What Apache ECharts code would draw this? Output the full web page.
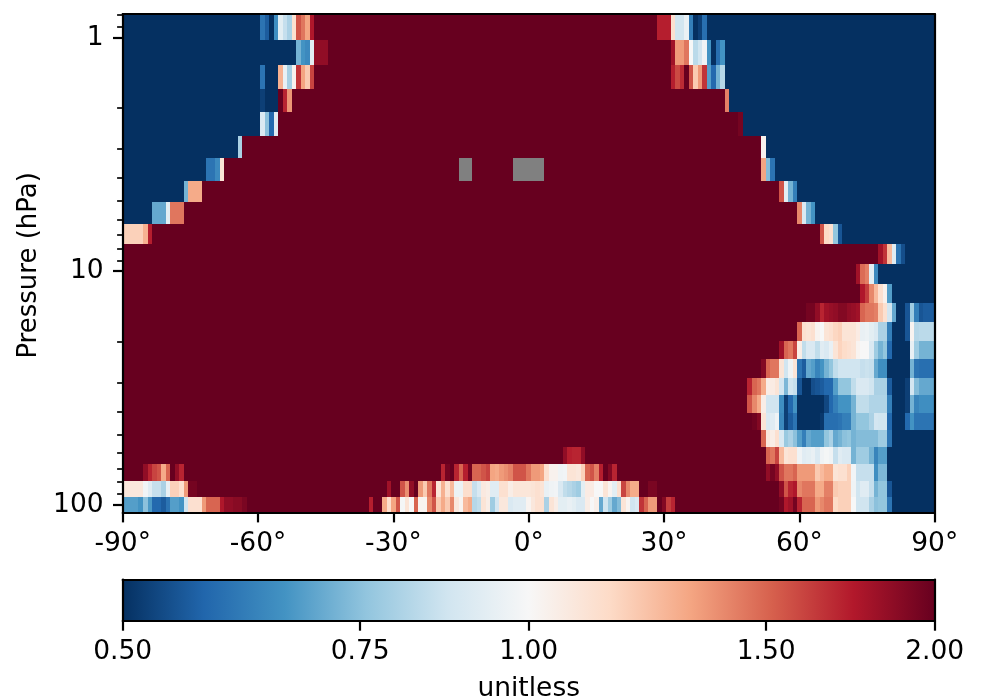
<!DOCTYPE html>
<html><head><meta charset="utf-8">
<style>html,body{margin:0;padding:0;background:#fff}#c{width:985px;height:700px}</style>
<script src="https://cdn.jsdelivr.net/npm/echarts@6/dist/echarts.min.js"></script></head>
<body><div id="c"></div>
<script>
// Pressure edges of the 25 rows, top to bottom (hPa)
const pressureEdges = [0.792,1.023,1.309,1.658,2.08,2.635,3.27,4.11,5.05,6.27,7.64,9.30,11.33,13.67,16.48,19.88,23.74,28.63,33.85,40.42,47.8,56.5,66.8,79.0,92.5,108.3];
// Each row: segments [startLat, v, v, ...]; the last value of a segment holds until the next segment. null = no data
const row00 = [[-90,.5],[-59,.6,.56,.5,.65,.93,.85,.8,1.12,1.55,1.45,1.32,1.75,2],[29,1.72,1.72,1.72,1.12,.87,.87,.95,.62,.5,.52,.59,.5]];
const row01 = [[-90,.5],[-51,.72,.66,.64,.93,1.85,1.85,1.85,2],[32,1.8,1.35,1.35,1.45,1,.83,.87,.97,.66,.5,.59,.66,.5]];
const row02 = [[-90,.5],[-59,.6,.5],[-55,1.28,.95,.79,1.03,1.65,1.32,1.2,1.6,2],[32,1.72,1.58,1.68,2,1.55,1.2,1.35,1.65,.68,.58,.72,.82,.5]];
const row03 = [[-90,.5],[-59,.52,.5],[-55,2,1.7,1.36,2],[44,1.42,.5]];
const row04 = [[-90,.5],[-59,.9,.75,.58,.92,2],[47,1.95,.5]];
const row05 = [[-90,.5],[-64,.8,2],[52,1.03,.5]];
const row06 = [[-90,.5],[-71,.6,.6,.64,1.1,2],[-15,null,null,null,2],[-3,null,null,null,null,null,null,null,2],[52,1.32,.74,.6,.5]];
const row07 = [[-90,.5],[-76,.72,1.3,1.3,1.3,2],[56,1.55,.93,.72,.62,.5]];
const row08 = [[-90,.5],[-83,.7,.7,.7,.93,1.45,1.45,1.45,2],[60,1.4,.9,.72,.66,.5]];
const row09 = [[-90,1.18,1.18,1.18,1.18,1.18,1.28,1.72,2],[65,1.55,1.15,1.12,.76,.55,.5]];
const row10 = [[-90,2],[78,1.8,1.65,1.25,.92,.6,.54,.5]];
const row11 = [[-90,2],[73,1.8,1.48,1.42,.93,.64,.5]];
const row12 = [[-90,2],[74,1.75,1.62,1.4,1.25,1.12,1.03,.68,.5]];
const row13 = [[-90,2],[62,1.95,1.95,1.85,1.7,1.8,1.83,1.85,1.9,1.9,1.85,1.83,1.8,1.5,1.45,1.45,1.42,1.2,1.12,.88,.7,.5,.5,.55,.78,.62,.55,.56,.56,.56]];
const row14 = [[-90,2],[60,1.5,1.12,1.1,1.12,1.02,1,1.1,1.12,1.16,1.18,1.1,1.1,1.1,1.06,.95,.96,.93,.9,.8,.8,.62,.5,.5,.5,.55,1.02,.82,.83,.83,.83,.83]];
const row15 = [[-90,2],[56,1.8,1.5,1.45,1.6,1.05,.84,.9,.9,.84,.92,.9,.95,1.1,1.17,1.14,1.12,1.1,1.02,1,1,.9,.78,.72,.76,.58,.5,.5,.5,.5,.95,.78,.72,.72,.72,.72]];
const row16 = [[-90,2],[52,1.9,1.5,1.45,1.45,1.1,.87,.97,1.1,.6,.56,.7,.68,.63,.66,.72,.76,.84,.87,.87,.87,.87,.87,.85,.86,.85,.7,.65,.65,.5,.5,.5,.5,.5,.72,.6,.59,.59,.59,.59]];
const row17 = [[-90,2],[49,1.7,1.5,1.45,1.3,1.05,1.06,1.1,.88,.73,.87,.85,.55,.5,.5,.54,.55,.56,.58,.58,.68,.76,.76,.76,.84,.9,.9,.9,.87,.8,.8,.8,.56,.5,.5,.5,.52,.88,.74,.7,.7,.7,.7]];
const row18 = [[-90,2],[49,1.55,1.4,1.3,1.05,.87,.87,.87,.65,.52,.58,.66,.5,.5,.5,.5,.5,.5,.53,.58,.62,.66,.66,.66,.72,.84,.84,.84,.81,.81,.81,.81,.62,.5,.5,.5,.52,.72,.63,.65,.65,.65,.65]];
const row19 = [[-90,2],[50,1.97,1.9,1.1,.9,.92,.97,.64,.52,.56,.6,.5,.5,.5,.5,.5,.51,.59,.59,.59,.6,.62,.62,.72,.76,.76,.76,.8,.88,.87,.87,.58,.5,.5,.5,.58,.66,.6,.6,.6,.6,.6]];
const row20 = [[-90,2],[52,1.5,1.08,1.05,1.12,.9,.77,.8,.75,.68,.62,.7,.68,.68,.68,.76,.8,.7,.72,.75,.76,.72,.74,.74,.74,.74,.74,.78,.78,.6,.5]];
const row21 = [[-90,2],[8,1.85,1.72,1.7,1.7,1.85,2],[53,1.5,1.45,1.6,1.25,1.1,1.12,1.12,.97,.92,.93,.95,.9,.97,.99,.97,.85,.92,.9,.9,.72,.78,.78,.78,.72,.63,.68,.68,.5]];
const row22 = [[-90,2],[-85,1.85,1.7,1.6,1.55,1.3,1.5,2,1.85,1.7,2],[-19,1.7,1.95,2,1.7,1.5,1.72,1.95,1.5,1.5,1.55,1.6,1.32,1.3,1.35,1.38,1.42,1.55,1.55,1.55,1.45,1.35,1.35,1.32,1.12,1.03,1.03,.97,.98,1.1,1.1,1.08,1.18,1.5,1.55,1.42,1.72,2,1.9,1.7,2],[53,1.85,1.95,1.85,1.55,1.45,1.45,1.5,1.35,1.35,1.35,1.35,1.2,1.25,1.3,1.3,1.1,1.12,1.12,1.18,.98,.85,.85,.85,.85,.65,.73,.73,.5]];
const row23 = [[-90,1.08,1.08,1.08,1.08,1.08,.98,.92,.85,.85,.8,.95,1.18,1.18,1.12,1.35,1.95,1.95,2],[-31,1.8,2,2,1.55,1.38,1.85,2,1.35,1.2,1.45,1.7,1.1,1.28,1.12,1.25,.96,.96,1.13,1.13,.85,.9,1.07,1.05,.92,.92,1.12,1.12,1.05,1.09,1.09,1.09,1.09,1.1,1.12,1.1,.95,.97,.98,.9,.84,.82,.8,.78,.93,1.06,1.06,1,1,1.1,1.02,.93,1.12,1.6,1.4,1.3,1.3,2],[27,1.93,1.93,2],[56,1.85,1.55,1.7,1.75,1.4,1.45,1.45,1.45,1.3,1.3,1.42,1.42,1.2,1.18,1.18,1.18,.97,.87,.92,.92,.85,.72,.76,.76,.55,.5]];
const row24 = [[-90,.68,.68,.68,.68,.66,.75,.67,.58,.58,.56,.6,.68,.68,.66,.87,1.12,1.12,1.12,1.35,1.5,1.5,1.5,1.75,1.85,1.85,1.88,1.88,1.93,2],[-35,1.72,2,2,1.3,1.13,1.32,1.55,.99,1.1,1,1.5,1.02,1.02,1.4,1.55,1.2,1.3,1.2,1.4,1.08,1.02,1.25,1.3,.82,.84,1.1,1.05,.78,.88,1.08,1.08,.9,.92,.92,.92,1.02,1.08,1.12,1.12,.8,1.1,1.05,.93,.93,.95,.93,.9,.9,1.05,1,1.04,.7,.87,.78,.7,.74,1.1,1.02,.87,.9,1.65,1.5,1.35,1.35,2,1.9,1.62,1.7,2],[56,1.95,1.75,1.8,1.95,1.7,1.5,1.5,1.5,1.35,1.4,1.45,1.45,1.15,1.18,1.18,1.18,1,.87,.87,.87,.8,.75,.76,.76,.6,.5]];
const rows = [row00,row01,row02,row03,row04,row05,row06,row07,row08,row09,row10,row11,row12,row13,row14,row15,row16,row17,row18,row19,row20,row21,row22,row23,row24];
const pressureMajor = [1,10,100];
const pressureMinor = [0.8,0.9,2,3,4,5,6,7,8,9,20,30,40,50,60,70,80,90];
const barTicks = [0.5,0.75,1,1.5,2];
const rdbu = ['#053061','#2166ac','#4393c3','#92c5de','#d1e5f0','#f7f7f7','#fddbc7','#f4a582','#d6604d','#b2182b','#67001f'];
const FONT = 'DejaVu Sans', FS = 26.5, LW = 2.2;

function colorOf(v){
  if (v === null) return '#808080';
  const t = Math.max(0, Math.min(1, (Math.log2(v) + 1) / 2));
  return echarts.color.lerp(t, rdbu);
}
const cells = [];
rows.forEach((segs, r) => {
  segs.forEach((seg, i) => {
    const end = i + 1 < segs.length ? segs[i + 1][0] : 91;
    for (let lat = seg[0]; lat < end; lat++) {
      const k = lat - seg[0] + 1;
      cells.push([lat, r, k < seg.length ? seg[k] : seg[seg.length - 1]]);
    }
  });
});
const chart = echarts.init(document.getElementById('c'), null, {renderer:'canvas'});
const lineStyle = {color:'#000', width:LW};
chart.setOption({
  animation:false,
  backgroundColor:'#fff',
  grid:[
    {left:122.7, right:50.3, top:14, height:498.7, outerBoundsMode:'none'},
    {left:122.7, right:50.3, top:579.5, height:41.5, outerBoundsMode:'none'}
  ],
  xAxis:[
    {gridIndex:0, type:'value', min:-90, max:90, interval:30, z:5,
     axisLine:{show:true,onZero:false,lineStyle}, axisTick:{length:9.7,lineStyle}, splitLine:{show:false},
     axisLabel:{color:'#000',fontFamily:FONT,fontSize:FS,margin:18,formatter:v=>v+'°',hideOverlap:false}},
    {gridIndex:0, type:'value', min:-90, max:90, position:'top', z:5,
     axisLine:{show:true,onZero:false,lineStyle}, axisTick:{show:false}, axisLabel:{show:false}, splitLine:{show:false}},
    {gridIndex:1, type:'log', logBase:2, min:0.5, max:2, z:5,
     axisLine:{show:true,onZero:false,lineStyle}, splitLine:{show:false}, minorTick:{show:false},
     axisTick:{length:9.7,lineStyle,customValues:barTicks},
     axisLabel:{color:'#000',fontFamily:FONT,fontSize:FS,margin:18,customValues:barTicks,formatter:v=>v.toFixed(2),hideOverlap:false},
     name:'unitless', nameLocation:'middle', nameGap:55, nameTextStyle:{color:'#000',fontFamily:FONT,fontSize:FS}},
    {gridIndex:1, type:'log', logBase:2, min:0.5, max:2, position:'top', z:5,
     axisLine:{show:true,onZero:false,lineStyle}, axisTick:{show:false}, axisLabel:{show:false}, splitLine:{show:false}, minorTick:{show:false}}
  ],
  yAxis:[
    {gridIndex:0, type:'log', logBase:10, min:0.792, max:108.3, inverse:true, z:5, position:'left',
     axisLine:{show:true,onZero:false,lineStyle}, splitLine:{show:false}, minorTick:{show:false},
     axisTick:{length:9.7,lineStyle,customValues:pressureMajor},
     axisLabel:{color:'#000',fontFamily:FONT,fontSize:FS,margin:19,padding:[4,0,0,0],customValues:pressureMajor,formatter:v=>String(Math.round(v))},
     name:'Pressure (hPa)', nameLocation:'middle', nameGap:77, nameTextStyle:{color:'#000',fontFamily:FONT,fontSize:26,padding:[0,4,0,0]}},
    {gridIndex:0, type:'log', logBase:10, min:0.792, max:108.3, inverse:true, z:5, position:'left',
     axisLine:{show:false,onZero:false}, splitLine:{show:false}, axisLabel:{show:false}, minorTick:{show:false},
     axisTick:{length:5.6,lineStyle:{color:'#000',width:1.67},customValues:pressureMinor}},
    {gridIndex:0, type:'log', logBase:10, min:0.792, max:108.3, inverse:true, position:'right', z:5,
     axisLine:{show:true,onZero:false,lineStyle}, axisTick:{show:false}, axisLabel:{show:false}, splitLine:{show:false}, minorTick:{show:false}},
    {gridIndex:1, type:'value', min:0, max:1, z:5, position:'left',
     axisLine:{show:true,onZero:false,lineStyle}, axisTick:{show:false}, axisLabel:{show:false}, splitLine:{show:false}},
    {gridIndex:1, type:'value', min:0, max:1, position:'right', z:5,
     axisLine:{show:true,onZero:false,lineStyle}, axisTick:{show:false}, axisLabel:{show:false}, splitLine:{show:false}}
  ],
  series:[
    {type:'custom', xAxisIndex:0, yAxisIndex:0, data:cells, silent:true, z:2,
     renderItem(params, api){
       const lat = api.value(0), r = api.value(1);
       const v = cells[params.dataIndex][2];
       const a = api.coord([lat - 0.5, pressureEdges[r]]);
       const b = api.coord([lat + 0.5, pressureEdges[r + 1]]);
       const x0 = Math.max(Math.round(a[0]), Math.round(params.coordSys.x));
       const x1 = Math.min(Math.round(b[0]), Math.round(params.coordSys.x + params.coordSys.width));
       const y0 = Math.round(a[1]), y1 = Math.round(b[1]);
       return {type:'rect', shape:{x:x0, y:y0, width:x1 - x0, height:y1 - y0}, style:{fill:colorOf(v)}};
     }},
    {type:'custom', xAxisIndex:2, yAxisIndex:3, data:[[0.5,2]], silent:true, z:2,
     renderItem(params, api){
       const a = api.coord([0.5, 1]), b = api.coord([2, 0]);
       return {type:'rect', shape:{x:a[0], y:a[1], width:b[0]-a[0], height:b[1]-a[1]},
         style:{fill:new echarts.graphic.LinearGradient(0,0,1,0, rdbu.map((c,i)=>({offset:i/10,color:c})))}};
     }}
  ]
});
</script></body></html>
